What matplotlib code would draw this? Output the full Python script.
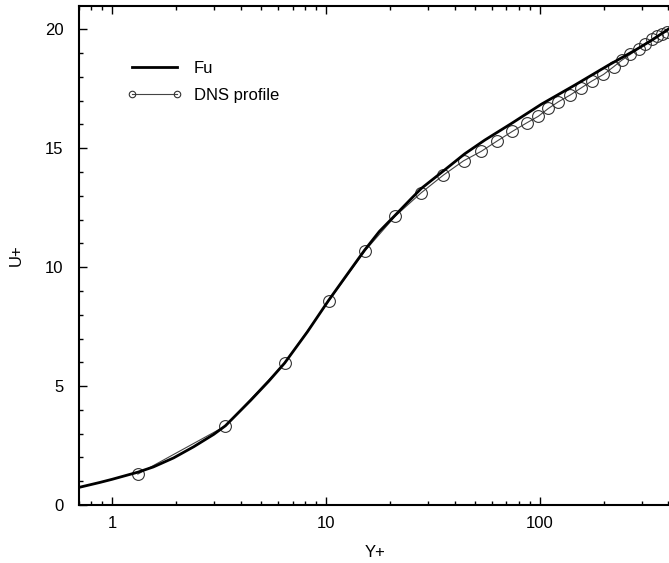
import numpy as np
import matplotlib
matplotlib.use("Agg")
import matplotlib.pyplot as plt
from matplotlib.ticker import FixedLocator, FixedFormatter, MultipleLocator, LogLocator, NullFormatter

plt.rcParams['font.family'] = ['Liberation Sans', 'DejaVu Sans']

# Fu model profile
fu_y = [0.70, 0.878, 1.0, 1.32, 1.56, 1.94, 2.41, 2.99, 3.39, 4.45, 5.4, 6.42, 8.2, 10.3,
        12.6, 15.2, 17.8, 21.1, 25.1, 27.9, 35.9, 44.6, 55.4, 73.9, 102, 146, 210, 280,
        335, 412]
fu_u = [0.74, 0.95, 1.08, 1.38, 1.60, 1.98, 2.45, 2.97, 3.33, 4.40, 5.20, 5.97, 7.28, 8.6,
        9.70, 10.72, 11.50, 12.18, 12.88, 13.30, 14.08, 14.76, 15.34, 16.04, 16.85, 17.65,
        18.49, 19.12, 19.54, 20.08]

# DNS profile points
dns_y = [1.32, 3.39, 6.42, 10.3, 15.2, 21.1, 27.9, 35.5, 44.1, 53.4, 63.5, 74.7, 86.9,
         98.6, 109.9, 122.4, 138.8, 156.3, 175.4, 199.1, 221.8, 242.6, 265.5, 290.6,
         312.0, 335.5, 354.2, 373.9, 394.7]
dns_u = [1.30, 3.32, 5.97, 8.57, 10.67, 12.14, 13.12, 13.87, 14.47, 14.87, 15.31, 15.71,
         16.06, 16.34, 16.67, 16.95, 17.23, 17.53, 17.82, 18.10, 18.42, 18.70, 18.94,
         19.19, 19.40, 19.58, 19.72, 19.82, 19.89]

fig = plt.figure(figsize=(6.69, 5.63), dpi=100)
ax = fig.add_axes([0.118, 0.103, 0.885, 0.886])

ax.plot(fu_y, fu_u, color='black', lw=2.0, label='Fu', zorder=3)
ax.plot(dns_y, dns_u, color='#444444', lw=0.8, marker='o', markersize=8.5,
        markerfacecolor='none', markeredgecolor='#333333', markeredgewidth=0.8,
        label='DNS profile', zorder=2)

ax.set_xscale('log')
ax.set_xlim(0.70, 412)
ax.set_ylim(0, 20.97)

ax.xaxis.set_major_locator(FixedLocator([1, 10, 100]))
ax.xaxis.set_major_formatter(FixedFormatter(['1', '10', '100']))
ax.xaxis.set_minor_locator(LogLocator(base=10, subs=np.arange(2, 10)))
ax.xaxis.set_minor_formatter(NullFormatter())
ax.yaxis.set_major_locator(MultipleLocator(5))
ax.yaxis.set_minor_locator(MultipleLocator(1))

ax.tick_params(which='both', direction='in', top=True, right=False, labelsize=12,
               width=1.0)
ax.tick_params(axis='x', which='both', pad=8)
ax.tick_params(axis='y', which='both', pad=11)
ax.tick_params(which='major', length=6)
ax.tick_params(which='minor', length=3)
for s in ax.spines.values():
    s.set_linewidth(1.5)

ax.set_xlabel('Y+', fontsize=12, labelpad=10)
ax.set_ylabel('U+', fontsize=12, labelpad=15)

ax.legend(loc='upper left', bbox_to_anchor=(0.190, 0.892), bbox_transform=fig.transFigure,
          frameon=False, fontsize=12, handlelength=3.3, handletextpad=0.7,
          labelspacing=0.72, borderpad=0, borderaxespad=0, numpoints=2, markerscale=0.55)

fig.savefig('out.png', dpi=100)
